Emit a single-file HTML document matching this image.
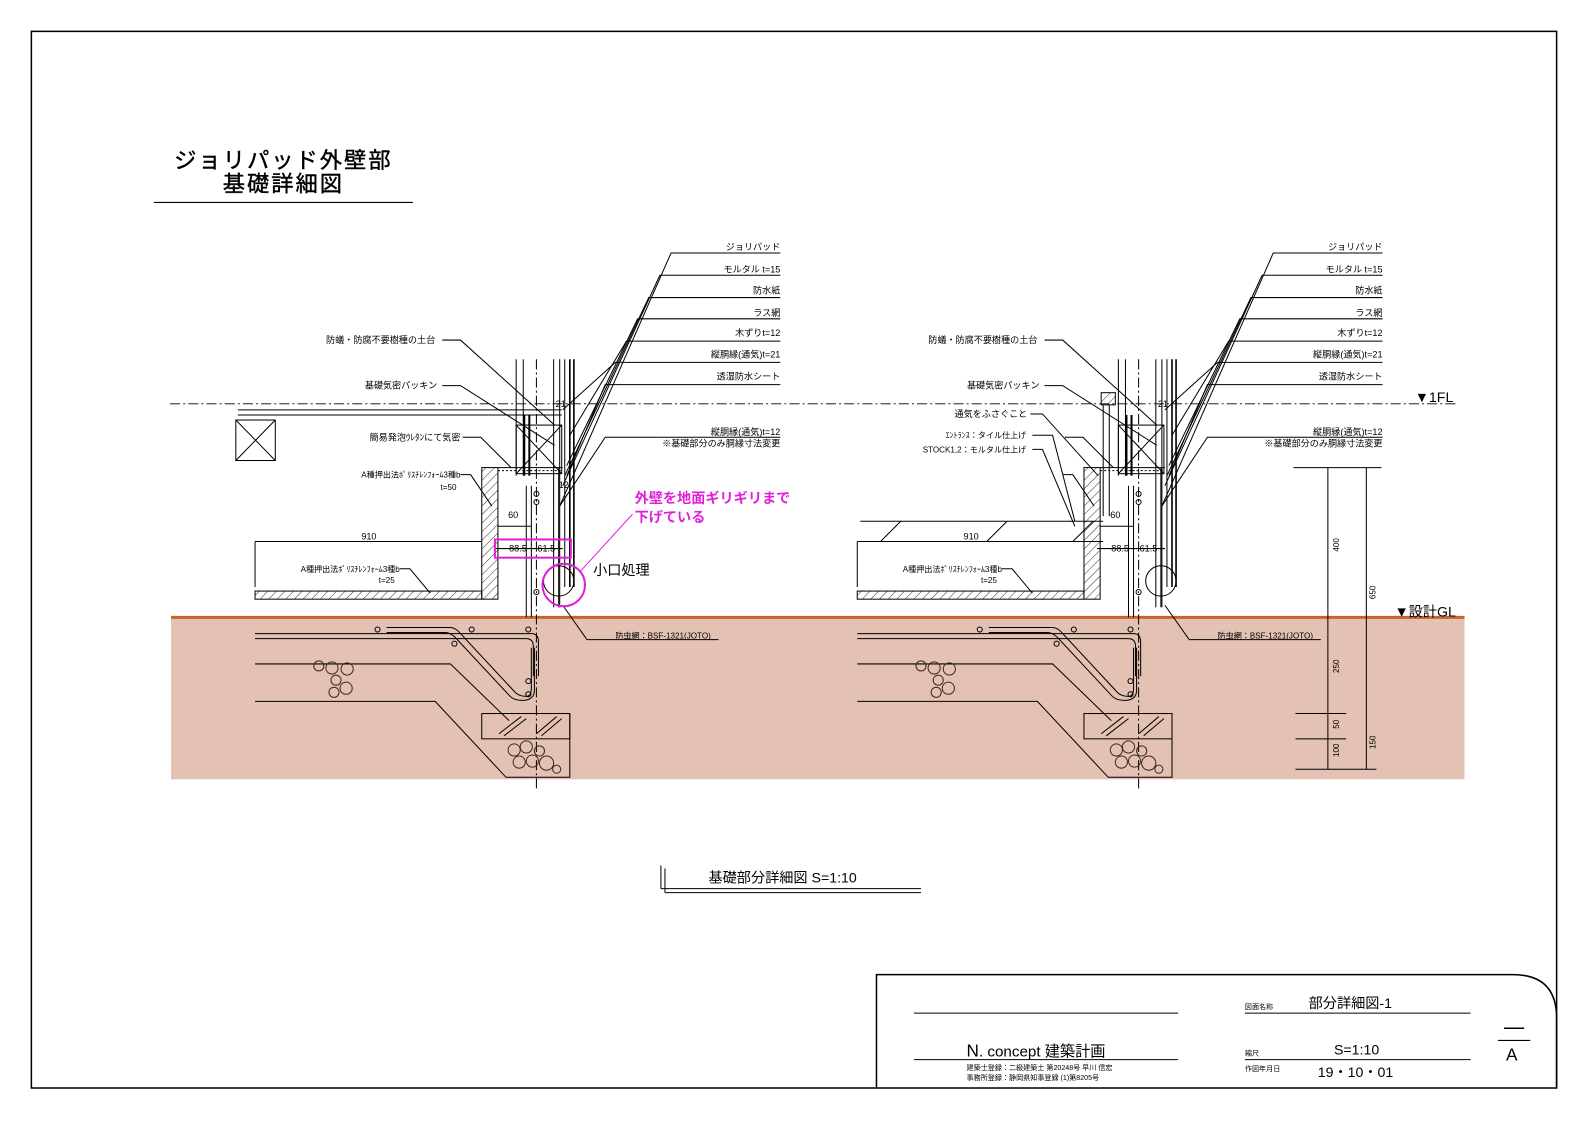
<!DOCTYPE html>
<html><head><meta charset="utf-8"><style>
html,body{margin:0;padding:0;background:#fff;overflow:hidden}
svg{display:block}
text{font-family:"Liberation Sans","Noto Sans CJK JP",sans-serif;fill:#000}
</style></head><body>
<svg width="1587" height="1122" viewBox="0 0 1587 1122" xmlns="http://www.w3.org/2000/svg">
<defs>
<pattern id="h" width="6" height="6" patternUnits="userSpaceOnUse" patternTransform="rotate(45)"><line x1="0" y1="0" x2="0" y2="6" stroke="#000" stroke-width="0.8"/></pattern>
<g id="det" fill="none" stroke="#000" stroke-width="1">
  <line x1="510" y1="355" x2="510" y2="470"/><line x1="517" y1="355" x2="517" y2="470"/>
  <line x1="547" y1="355" x2="547" y2="600"/><line x1="553" y1="355" x2="553" y2="600"/>
  <line x1="558" y1="355" x2="558" y2="580"/><line x1="563" y1="355" x2="563" y2="580" stroke-width="1.6"/><line x1="567" y1="355" x2="567" y2="580" stroke-width="1.6"/>
  <line x1="530" y1="355" x2="530" y2="780" stroke-dasharray="10,3,2,3"/>
  <rect x="510" y="420" width="45" height="48"/><line x1="510" y1="420" x2="555" y2="468"/><line x1="555" y1="420" x2="510" y2="468"/>
  <line x1="518" y1="410" x2="518" y2="470" stroke-width="2"/><line x1="523" y1="410" x2="523" y2="470" stroke-width="2"/>
  <rect x="476" y="462" width="16" height="130" fill="url(#h)"/>
  <line x1="492" y1="465" x2="556" y2="465" stroke-dasharray="2,2"/>
  <line x1="492" y1="462" x2="556" y2="462"/>
  <line x1="552" y1="462" x2="552" y2="600"/>
  <line x1="492" y1="520" x2="525" y2="520"/>
  <line x1="520" y1="480" x2="520" y2="610"/><line x1="525" y1="480" x2="525" y2="610"/>
  <circle cx="530" cy="488" r="2.5"/><circle cx="530" cy="496" r="2.5"/><circle cx="530" cy="585" r="2.5"/>
  <line x1="489" y1="542" x2="556" y2="542"/>
  <line x1="252" y1="535" x2="476" y2="535"/><line x1="252" y1="535" x2="252" y2="580"/>
  <rect x="252" y="584" width="224" height="8" fill="url(#h)"/>
  <circle cx="552" cy="574" r="15"/>
  <path d="M252 626 H525 Q532 626 532 634 V668" />
  <path d="M252 631 H520 Q527 631 527 639 V668" />
  <path d="M382 620 H445 Q450 620 455 626 L508 683 Q512 688 520 688 Q525 688 525 680 V640"/>
  <path d="M382 625 H440 Q445 625 450 630 L504 688 Q508 692 516 692 Q528 692 528 682 V640"/>
  <circle cx="373" cy="622" r="2.5"/><circle cx="466" cy="622" r="2.5"/><circle cx="522" cy="622" r="2.5"/><circle cx="449" cy="636" r="2.5"/><circle cx="522" cy="673" r="2.5"/><circle cx="522" cy="686" r="2.5"/>
  <path d="M252 656 H445 L503 712"/>
  <path d="M252 693 H430 L500 768 H563 V705"/>
  <rect x="476" y="705" width="87" height="25"/>
  <line x1="493" y1="725" x2="515" y2="708"/><line x1="498" y1="727" x2="520" y2="710"/><line x1="530" y1="725" x2="550" y2="708"/><line x1="535" y1="727" x2="555" y2="710"/>
  <g stroke="#3a2a20">
   <circle cx="508" cy="741" r="6"/><circle cx="520" cy="738" r="6"/><circle cx="533" cy="742" r="5"/><circle cx="513" cy="753" r="6"/><circle cx="526" cy="752" r="6"/><circle cx="540" cy="754" r="7"/><circle cx="550" cy="760" r="4"/>
   <circle cx="315" cy="658" r="5"/><circle cx="328" cy="660" r="6"/><circle cx="343" cy="661" r="6"/><circle cx="332" cy="672" r="5"/><circle cx="330" cy="684" r="5"/><circle cx="342" cy="680" r="6"/>
  </g>
  <polyline points="771,250 663,250 553,500"/><polyline points="771,272 652,272 556,480"/><polyline points="771,294 641,294 558,470"/>
  <polyline points="771,315 630,315 560,460"/><polyline points="771,337 619,337 563,430"/><polyline points="771,358 608,358 556,405"/>
  <polyline points="771,380 598,380 560,470"/>
  <polyline points="771,432 598,432 553,500"/>
  <polyline points="437,336 455,336 548,420"/><polyline points="437,381 455,381 548,440"/><polyline points="457,432 475,432 505,462"/>
  <polyline points="455,469 465,469 486,500"/><polyline points="395,562 405,562 425,586"/>
  <polyline points="710,632 580,632 556,598"/>
</g>
</defs>
<g transform="scale(1.0121)">
<rect x="31" y="31" width="1507" height="1044" fill="none" stroke="#000" stroke-width="1.5"/>
<text x="280" y="166" font-size="22" text-anchor="middle" letter-spacing="2" stroke="#000" stroke-width="0.4">ジョリパッド外壁部</text>
<text x="280" y="189" font-size="22" text-anchor="middle" letter-spacing="2" stroke="#000" stroke-width="0.4">基礎詳細図</text>
<line x1="152" y1="200" x2="408" y2="200" stroke="#000" stroke-width="1.2"/>

<rect x="169" y="610" width="1278" height="160" fill="#e3c1b3"/>
<line x1="169" y1="610" x2="1447" y2="610" stroke="#c8622e" stroke-width="3"/>
<line x1="168" y1="399" x2="1440" y2="399" stroke="#000" stroke-dasharray="10,3,2,3" stroke-width="0.8"/>

<use href="#det"/>
<use href="#det" transform="translate(595,0)"/>

<g fill="none" stroke="#000">
 <line x1="235" y1="405" x2="555" y2="405"/><line x1="235" y1="410" x2="555" y2="410"/>
 <rect x="233" y="415" width="39" height="40"/><line x1="233" y1="415" x2="272" y2="455"/><line x1="272" y1="415" x2="233" y2="455"/>
 <rect x="1088" y="388" width="14" height="12" fill="url(#h)"/>
 <line x1="1090" y1="400" x2="1090" y2="510"/><line x1="1096" y1="400" x2="1096" y2="510"/>
 <line x1="850" y1="515" x2="1090" y2="515"/><line x1="850" y1="535" x2="1090" y2="535"/>
 <line x1="870" y1="535" x2="890" y2="515"/><line x1="975" y1="535" x2="995" y2="515"/><line x1="1060" y1="535" x2="1080" y2="515"/>
 <polyline points="1020,430 1040,430 1062,515"/><polyline points="1020,444 1030,444 1062,520"/><polyline points="1018,409 1030,409 1085,470"/>
 <line x1="1278" y1="462" x2="1365" y2="462"/><line x1="1312" y1="462" x2="1312" y2="760"/><line x1="1350" y1="462" x2="1350" y2="760"/>
 <line x1="1280" y1="705" x2="1330" y2="705"/><line x1="1280" y1="730" x2="1330" y2="730"/><line x1="1280" y1="760" x2="1360" y2="760"/>
</g>
<g fill="#000" stroke="none">
 <g font-size="9" text-anchor="end">
  <text x="771" y="247">ジョリパッド</text><text x="771" y="269">モルタル t=15</text><text x="771" y="290">防水紙</text><text x="771" y="312">ラス網</text><text x="771" y="332">木ずりt=12</text><text x="771" y="353">縦胴縁(通気)t=21</text><text x="771" y="375">透湿防水シート</text><text x="771" y="430">縦胴縁(通気)t=12</text><text x="771" y="441">※基礎部分のみ胴縁寸法変更</text>
  <text x="1366" y="247">ジョリパッド</text><text x="1366" y="269">モルタル t=15</text><text x="1366" y="290">防水紙</text><text x="1366" y="312">ラス網</text><text x="1366" y="332">木ずりt=12</text><text x="1366" y="353">縦胴縁(通気)t=21</text><text x="1366" y="375">透湿防水シート</text><text x="1366" y="430">縦胴縁(通気)t=12</text><text x="1366" y="441">※基礎部分のみ胴縁寸法変更</text>
  <text x="430" y="339">防蟻・防腐不要樹種の土台</text><text x="432" y="384">基礎気密パッキン</text><text x="455" y="435">簡易発泡ｳﾚﾀﾝにて気密</text>
  <text x="455" y="472" font-size="8">A種押出法ﾎﾟﾘｽﾁﾚﾝﾌｫｰﾑ3種b</text><text x="451" y="484" font-size="8">t=50</text>
  <text x="395" y="565" font-size="8">A種押出法ﾎﾟﾘｽﾁﾚﾝﾌｫｰﾑ3種b</text><text x="390" y="576" font-size="8">t=25</text>
  <text x="1025" y="339">防蟻・防腐不要樹種の土台</text><text x="1027" y="384">基礎気密パッキン</text><text x="1015" y="412">通気をふさぐこと</text>
  <text x="1014" y="433" font-size="8">ｴﾝﾄﾗﾝｽ：タイル仕上げ</text><text x="1014" y="447" font-size="8">STOCK1,2：モルタル仕上げ</text>
  <text x="990" y="565" font-size="8">A種押出法ﾎﾟﾘｽﾁﾚﾝﾌｫｰﾑ3種b</text><text x="985" y="576" font-size="8">t=25</text>
 </g>
 <g font-size="9">
  <text x="357" y="533">910</text><text x="502" y="512">60</text><text x="503" y="545">88.5</text><text x="531" y="545">61.5</text><text x="549" y="402">21</text><text x="552" y="482">12</text>
  <text x="952" y="533">910</text><text x="1097" y="512">60</text><text x="1098" y="545">88.5</text><text x="1126" y="545">61.5</text><text x="1144" y="402">21</text>
  <text x="608" y="631" font-size="8">防虫網：BSF-1321(JOTO)</text><text x="1203" y="631" font-size="8">防虫網：BSF-1321(JOTO)</text>
 </g>
 <g font-size="8">
  <text transform="translate(1323,545) rotate(-90)">400</text><text transform="translate(1359,592) rotate(-90)">650</text>
  <text transform="translate(1323,665) rotate(-90)">250</text><text transform="translate(1323,720) rotate(-90)">50</text>
  <text transform="translate(1323,748) rotate(-90)">100</text><text transform="translate(1359,740) rotate(-90)">150</text>
 </g>
 <text x="1398" y="397" font-size="14">▼1FL</text>
 <text x="1378" y="609" font-size="14">▼設計GL</text>
 <text x="586" y="568" font-size="14">小口処理</text>
</g>
<g fill="none" stroke="#e020d8" stroke-width="2">
 <rect x="489" y="533" width="75" height="18"/>
 <circle cx="557" cy="578" r="21"/>
 <line x1="573" y1="565" x2="625" y2="508" stroke-width="1"/>
</g>
<text x="627" y="497" font-size="14" font-weight="bold" style="fill:#e020d8">外壁を地面ギリギリまで</text>
<text x="627" y="516" font-size="14" font-weight="bold" style="fill:#e020d8">下げている</text>

<g fill="none" stroke="#000">
 <line x1="653" y1="855" x2="653" y2="878"/><line x1="657" y1="858" x2="657" y2="882"/>
 <line x1="653" y1="878" x2="910" y2="878"/><line x1="657" y1="882" x2="910" y2="882"/>
 <path d="M866 1075 V963 H1495 Q1538 963 1538 1006 V1075" stroke-width="1.5"/>
 <line x1="903" y1="1001" x2="1164" y2="1001"/><line x1="903" y1="1047" x2="1164" y2="1047"/>
 <line x1="1230" y1="1001" x2="1453" y2="1001"/><line x1="1230" y1="1047" x2="1453" y2="1047"/>
 <line x1="1486" y1="1016" x2="1506" y2="1016" stroke-width="1.5"/><line x1="1480" y1="1028" x2="1512" y2="1028"/>
</g>
<text x="700" y="872" font-size="14">基礎部分詳細図 S=1:10</text>
<text x="955" y="1044" font-size="15"><tspan font-size="17">N</tspan>. concept 建築計画</text>
<text x="955" y="1057" font-size="7">建築士登録：二級建築士 第20248号 早川 信宏</text>
<text x="955" y="1067" font-size="7">事務所登録：静岡県知事登録 (1)第8205号</text>
<text x="1230" y="997" font-size="7">図面名称</text><text x="1293" y="996" font-size="14">部分詳細図-1</text>
<text x="1230" y="1043" font-size="7">縮尺</text><text x="1318" y="1042" font-size="14">S=1:10</text>
<text x="1230" y="1058" font-size="7">作図年月日</text><text x="1302" y="1064" font-size="14">19・10・01</text>
<text x="1488" y="1048" font-size="17">A</text>
</g>
</svg>
</body></html>
